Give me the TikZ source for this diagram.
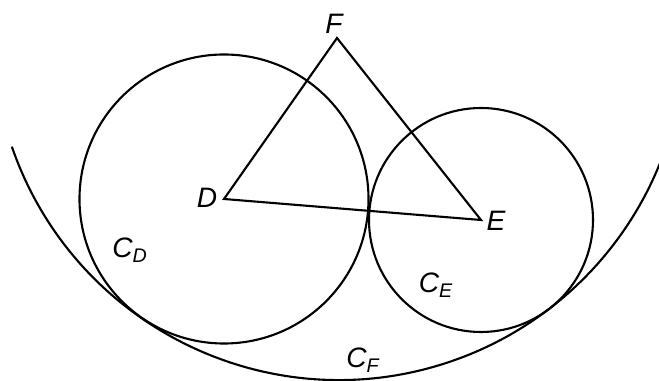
\documentclass[tikz,border=0pt]{standalone}
\usepackage{fontspec}
\setmainfont{Liberation Sans}

\begin{document}
\begin{tikzpicture}[
    x=0.02cm, y=0.02cm,
    line width=1.2pt,
    lbl/.style={inner sep=0pt, font=\fontsize{16}{19}\selectfont\itshape}
    ]
    \useasboundingbox (0,0) rectangle (659,381);

    \coordinate (D) at (224,182);
    \coordinate (E) at (481,161);
    \coordinate (F) at (337,343);
    \coordinate (O) at (339,347);

    \node[lbl] (Dl) at (207,183) {D};
    \node[lbl] (El) at (496,160) {E};
    \node[lbl] (Fl) at (334,357) {F};
    \node[lbl] (CDl) at (130,131) {C\textsubscript{D}};
    \node[lbl] (CEl) at (436,96) {C\textsubscript{E}};
    \node[lbl] (CFl) at (363,21) {C\textsubscript{F}};

    \draw (D) circle[radius=144.5];
    \draw (E) circle[radius=112];
    \draw ([shift={(199:346)}]O) arc[start angle=199, end angle=338, radius=346];

    \draw (D) -- (F) -- (E) -- cycle;

\end{tikzpicture}
\end{document}
